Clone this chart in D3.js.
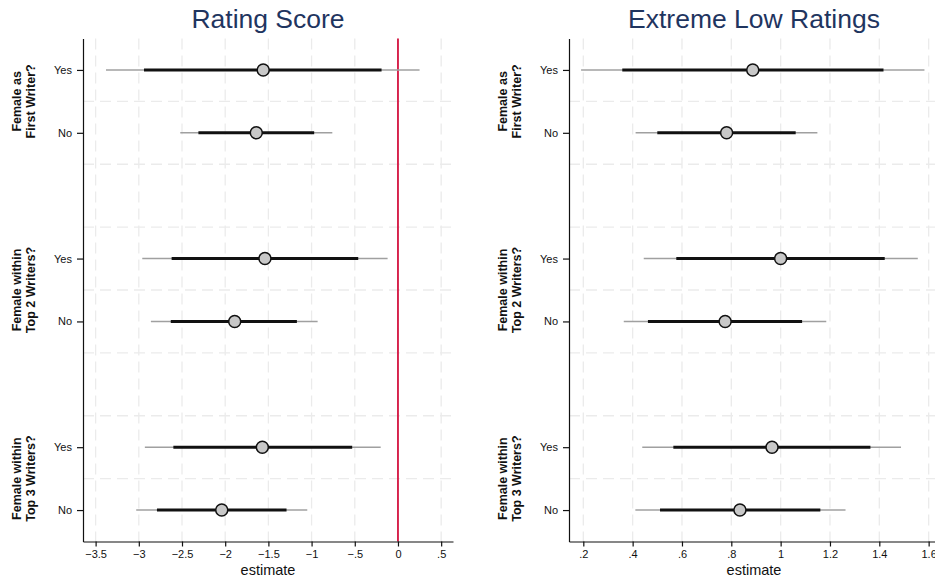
<!DOCTYPE html>
<html>
<head>
  <meta charset="utf-8">
  <script src="https://cdnjs.cloudflare.com/ajax/libs/d3/7.8.5/d3.min.js"></script>
  <title>coefplot</title>
  <style>
    body { margin: 0; background: #fff; }
    text { font-family: "Liberation Sans", Arial, Helvetica, sans-serif; }
  </style>
</head>
<body>
<script>
// rows top to bottom, one empty slot between groups
var rowLabels = ["Yes", "No", "Yes", "No", "Yes", "No"];
var rowSlots  = [0, 1, 3, 4, 6, 7];
var groupLabels = [["Female as", "First Writer?"], ["Female within", "Top 2 Writers?"], ["Female within", "Top 3 Writers?"]];

// Rating Score
var ratingEst   = [-1.56, -1.64, -1.54, -1.89, -1.57, -2.04];
var ratingLo90  = [-2.94, -2.31, -2.62, -2.63, -2.60, -2.79];
var ratingHi90  = [-0.19, -0.97, -0.46, -1.17, -0.53, -1.29];
var ratingLo95  = [-3.38, -2.52, -2.96, -2.86, -2.93, -3.03];
var ratingHi95  = [ 0.25, -0.76, -0.12, -0.93, -0.20, -1.05];
var ratingTicks = [-3.5, -3, -2.5, -2, -1.5, -1, -0.5, 0, 0.5];

// Extreme Low Ratings
var lowEst   = [0.887, 0.781, 1.0, 0.775, 0.965, 0.835];
var lowLo90  = [0.358, 0.500, 0.577, 0.462, 0.565, 0.511];
var lowHi90  = [1.417, 1.061, 1.422, 1.087, 1.364, 1.161];
var lowLo95  = [0.191, 0.412, 0.445, 0.364, 0.439, 0.411];
var lowHi95  = [1.583, 1.149, 1.556, 1.185, 1.488, 1.263];
var lowTicks = [0.2, 0.4, 0.6, 0.8, 1, 1.2, 1.4, 1.6];

var W = 935, H = 584;
var plotTop = 38.5, plotBottom = 541.5;

function fmt(v) {
  var s = d3.format("~g")(Math.abs(v)).replace(/^0\./, ".");
  return (v < 0 ? "\u2212" : "") + s;
}

var svg = d3.select("body").append("svg").attr("width", W).attr("height", H);

var y = d3.scaleLinear().domain([-0.5, 7.5]).range([plotTop, plotBottom]);

var panels = [
  { title: "Rating Score", left: 83, right: 453, domain: [-3.646, 0.637], ticks: ratingTicks,
    est: ratingEst, lo90: ratingLo90, hi90: ratingHi90, lo95: ratingLo95, hi95: ratingHi95, zero: true },
  { title: "Extreme Low Ratings", left: 569, right: 939, domain: [0.142, 1.642], ticks: lowTicks,
    est: lowEst, lo90: lowLo90, hi90: lowHi90, lo95: lowLo95, hi95: lowHi95, zero: false }
];

panels.forEach(function(p) {
  var x = d3.scaleLinear().domain(p.domain).range([p.left, p.right]);
  var g = svg.append("g");

  // grid
  g.selectAll(".vg").data(p.ticks).enter().append("line")
    .attr("x1", function(d) { return x(d); }).attr("x2", function(d) { return x(d); })
    .attr("y1", plotTop).attr("y2", plotBottom)
    .attr("stroke", "#ebebeb").attr("stroke-width", 1.3).attr("stroke-dasharray", "11,6");
  g.selectAll(".hg").data(d3.range(0.5, 7, 1)).enter().append("line")
    .attr("x1", p.left).attr("x2", p.right)
    .attr("y1", function(d) { return y(d); }).attr("y2", function(d) { return y(d); })
    .attr("stroke", "#ebebeb").attr("stroke-width", 1.3).attr("stroke-dasharray", "11,6");

  if (p.zero) {
    g.append("line").attr("x1", x(0)).attr("x2", x(0)).attr("y1", plotTop).attr("y2", plotBottom)
      .attr("stroke", "#d4123f").attr("stroke-width", 1.8);
  }

  var idx = d3.range(p.est.length);
  g.selectAll(".ci95").data(idx).enter().append("line")
    .attr("x1", function(i) { return x(p.lo95[i]); }).attr("x2", function(i) { return x(p.hi95[i]); })
    .attr("y1", function(i) { return y(rowSlots[i]); }).attr("y2", function(i) { return y(rowSlots[i]); })
    .attr("stroke", "#a0a0a0").attr("stroke-width", 1.4);
  g.selectAll(".ci90").data(idx).enter().append("line")
    .attr("x1", function(i) { return x(p.lo90[i]); }).attr("x2", function(i) { return x(p.hi90[i]); })
    .attr("y1", function(i) { return y(rowSlots[i]); }).attr("y2", function(i) { return y(rowSlots[i]); })
    .attr("stroke", "#111").attr("stroke-width", 3);
  g.selectAll(".pt").data(idx).enter().append("circle")
    .attr("cx", function(i) { return x(p.est[i]); }).attr("cy", function(i) { return y(rowSlots[i]); })
    .attr("r", 6).attr("fill", "#c8c8c8").attr("stroke", "#111").attr("stroke-width", 1.5);

  // x axis
  var xa = g.append("g").attr("transform", "translate(0," + plotBottom + ")")
    .call(d3.axisBottom(x).tickValues(p.ticks).tickSize(5).tickPadding(4).tickFormat(fmt).tickSizeOuter(0));
  xa.select(".domain").attr("stroke", "#111").attr("stroke-width", 1.2);
  xa.selectAll(".tick line").attr("stroke", "#111").attr("stroke-width", 1.2);
  xa.selectAll(".tick text").attr("font-size", 11).attr("fill", "#111")
    .attr("font-family", "Liberation Sans, Arial, sans-serif");

  // y axis
  var ya = g.append("g").attr("transform", "translate(" + p.left + ",0)")
    .call(d3.axisLeft(y).tickValues(rowSlots).tickSize(6).tickPadding(5)
      .tickFormat(function(d) { return rowLabels[rowSlots.indexOf(d)]; }).tickSizeOuter(0));
  ya.select(".domain").attr("stroke", "#111").attr("stroke-width", 1.2);
  ya.selectAll(".tick line").attr("stroke", "#111").attr("stroke-width", 1.2);
  ya.selectAll(".tick text").attr("font-size", 11).attr("fill", "#111")
    .attr("font-family", "Liberation Sans, Arial, sans-serif");

  // group labels
  groupLabels.forEach(function(lines, k) {
    var cy = (y(rowSlots[2 * k]) + y(rowSlots[2 * k + 1])) / 2;
    var t = g.append("text")
      .attr("transform", "translate(" + (p.left - 66) + "," + cy + ") rotate(-90)")
      .attr("text-anchor", "middle").attr("font-size", 12.5).attr("font-weight", "bold").attr("fill", "#111");
    lines.forEach(function(l, j) {
      t.append("tspan").attr("x", 0).attr("dy", j === 0 ? 4 : 14).text(l);
    });
  });

  g.append("text").attr("x", (p.left + p.right) / 2).attr("y", 28)
    .attr("text-anchor", "middle").attr("font-size", 26.5).attr("fill", "#1f355f").text(p.title);
  g.append("text").attr("x", (p.left + p.right) / 2).attr("y", 575)
    .attr("text-anchor", "middle").attr("font-size", 14.5).attr("fill", "#111").text("estimate");
});
</script>
</body>
</html>
